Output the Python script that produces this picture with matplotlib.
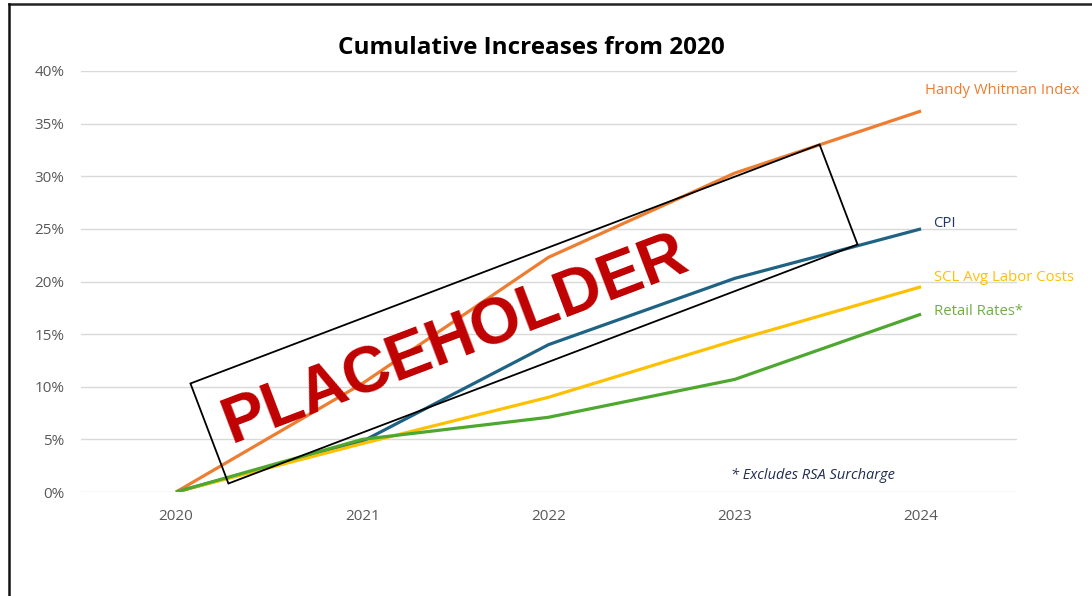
import matplotlib
matplotlib.use("Agg")
import matplotlib.pyplot as plt
from matplotlib.patches import Rectangle
from matplotlib.lines import Line2D
from matplotlib.ticker import PercentFormatter
import matplotlib.transforms as mtransforms

years = [2020, 2021, 2022, 2023, 2024]
handy_whitman = [0.0, 10.3, 22.3, 30.3, 36.2]
cpi = [0.0, 4.8, 14.0, 20.3, 25.0]
scl_labor = [0.0, 4.6, 9.0, 14.4, 19.5]
retail_rates = [0.0, 5.0, 7.1, 10.7, 16.9]

series_names = ["Handy Whitman Index", "CPI", "SCL Avg Labor Costs", "Retail Rates*"]
series_values = [handy_whitman, cpi, scl_labor, retail_rates]
line_colors = ["#ED7D31", "#1F6384", "#FFC000", "#4EA72E"]
label_colors = ["#ED7D31", "#1F3864", "#FFC000", "#70AD47"]
# label offsets (points) from each series' last point
label_offsets = [(3, 15), (9, 4), (9, 7), (9, 2)]

title = "Cumulative Increases from 2020"
footnote = "* Excludes RSA Surcharge"
stamp_text = "PLACEHOLDER"

plt.rcParams["font.family"] = ["Open Sans", "DejaVu Sans"]

W, H, DPI = 1092, 596, 100
fig = plt.figure(figsize=(W / DPI, H / DPI), dpi=DPI)
fig.patch.set_facecolor("white")

ax = fig.add_axes([81 / W, 104 / H, (1017 - 81) / W, (492 - 71) / H])
ax.set_xlim(2019.49, 2024.515)
ax.set_ylim(0, 40)
ax.set_yticks(range(0, 41, 5))
ax.yaxis.set_major_formatter(PercentFormatter(decimals=0))
ax.set_xticks(years)
ax.set_xticklabels([str(y) for y in years])
ax.grid(axis="y", color="#D9D9D9", linewidth=1.0)
ax.set_axisbelow(True)
for s in ax.spines.values():
    s.set_visible(False)
ax.tick_params(axis="both", length=0, labelsize=11, labelcolor="#595959")
ax.tick_params(axis="y", pad=12)
ax.tick_params(axis="x", pad=12)

for name, vals, lc, tc, off in zip(series_names, series_values, line_colors,
                                   label_colors, label_offsets):
    ax.plot(years, vals, color=lc, linewidth=2.3, solid_capstyle="butt", zorder=3)
    ax.annotate(name, xy=(years[-1], vals[-1]), xytext=off,
                textcoords="offset points", color=tc, fontsize=10.7,
                ha="left", va="center")

ax.text(0.782, 0.04, footnote, transform=ax.transAxes, fontsize=10.5,
        style="italic", color="#1F2D50", ha="center", va="center")

fig.text(531 / W, 1 - 48 / H, title, fontsize=17.5, fontweight="bold",
         ha="center", va="center", color="black")

# Rotated placeholder stamp
angle = 20.8
cx, cy = 524, H - 314
rw, rh = 673, 107
tr = mtransforms.Affine2D().rotate_deg_around(cx, cy, angle) + mtransforms.IdentityTransform()
rect = Rectangle((cx - rw / 2, cy - rh / 2), rw, rh, fill=False,
                 edgecolor="black", linewidth=1.3, transform=tr, zorder=10)
fig.patches.append(rect)
fig.text(455 / W, 1 - 340 / H, stamp_text, fontsize=46.5, fontweight="bold",
         color="#C00000", family=["Liberation Sans", "DejaVu Sans"],
         rotation=angle, rotation_mode="anchor", ha="center", va="center",
         zorder=11)

# Frame around the figure (top and left edges)
fig.add_artist(Line2D([9 / W, 1.0], [1 - 3.5 / H, 1 - 3.5 / H],
                      transform=fig.transFigure, color="#222222", linewidth=1.8))
fig.add_artist(Line2D([9 / W, 9 / W], [0, 1 - 3.5 / H],
                      transform=fig.transFigure, color="#111111", linewidth=1.8))

fig.savefig("out.png", dpi=DPI, facecolor="white")
